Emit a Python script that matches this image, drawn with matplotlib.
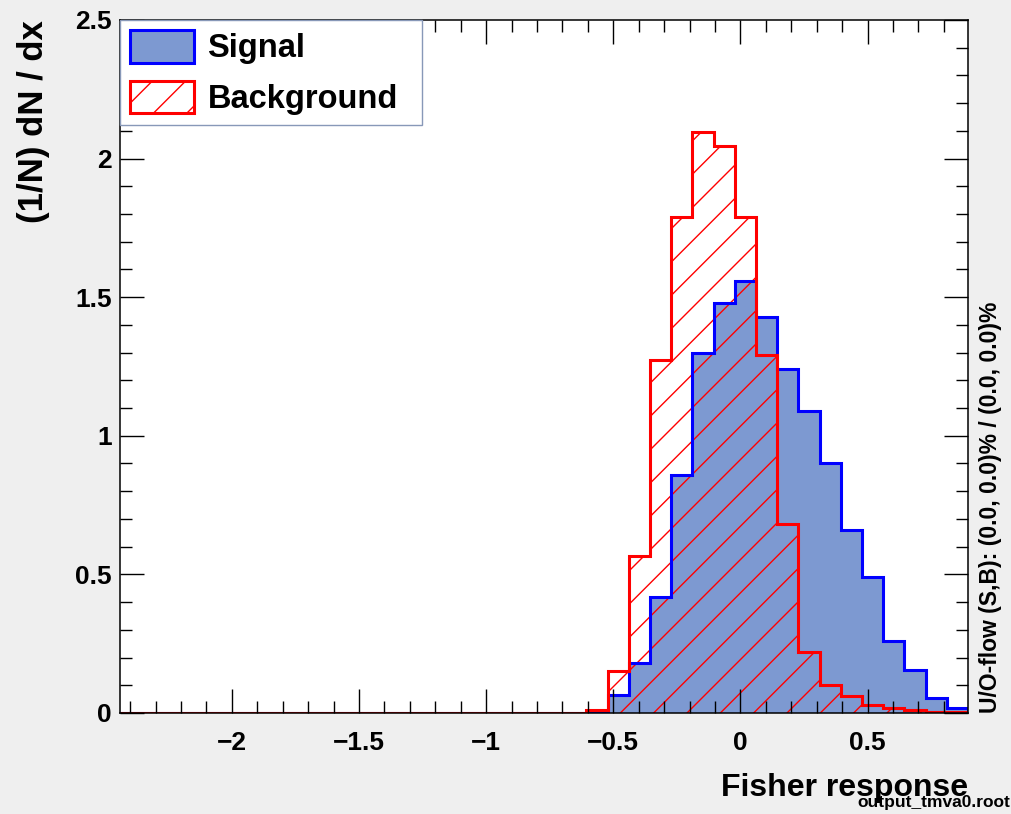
import numpy as np
import matplotlib
matplotlib.use('Agg')
import matplotlib.pyplot as plt
from matplotlib.patches import Patch
from matplotlib.ticker import MultipleLocator, FuncFormatter

# Fisher response binning (40 bins)
x_lo = -2.44
x_hi = 0.895
n_bins = 40

# normalised (1/N) dN/dx per bin, left bins are empty
signal = [0.0] * 23 + [0.065, 0.18, 0.42, 0.86, 1.30, 1.48, 1.56, 1.43, 1.24,
                       1.09, 0.90, 0.66, 0.49, 0.26, 0.155, 0.053, 0.018]
background = [0.0] * 22 + [0.01, 0.15, 0.565, 1.275, 1.79, 2.097, 2.046, 1.79, 1.29,
                           0.68, 0.22, 0.10, 0.06, 0.03, 0.018, 0.01, 0.005, 0.003]

labels = ['Signal', 'Background']
overflow_text = 'U/O-flow (S,B): (0.0, 0.0)% / (0.0, 0.0)%'


def main():
    plt.rcParams['font.family'] = ['Liberation Sans', 'DejaVu Sans']
    plt.rcParams['font.weight'] = 'bold'
    plt.rcParams['axes.labelweight'] = 'bold'
    plt.rcParams['hatch.linewidth'] = 1.0

    edges = np.linspace(x_lo, x_hi, n_bins + 1)

    fig = plt.figure(figsize=(10.11, 8.14), dpi=100, facecolor='#efefef')
    ax = fig.add_axes([0.1187, 0.1241, 0.8388, 0.8514])
    ax.set_facecolor('white')

    ax.stairs(signal, edges, fill=True, facecolor='#7d99d1', linewidth=0)
    ax.stairs(background, edges, fill=True, facecolor='none', edgecolor='red',
              hatch='/', linewidth=0)
    ax.stairs(signal, edges, color='blue', linewidth=2.2)
    ax.stairs(background, edges, color='red', linewidth=2.2)

    ax.set_xlim(x_lo, x_hi)
    ax.set_ylim(0, 2.5)
    ax.xaxis.set_major_locator(MultipleLocator(0.5))
    ax.xaxis.set_minor_locator(MultipleLocator(0.1))
    ax.yaxis.set_major_locator(MultipleLocator(0.5))
    ax.yaxis.set_minor_locator(MultipleLocator(0.1))
    fmt = FuncFormatter(lambda v, p: ('%g' % (0 if abs(v) < 1e-9 else v)).replace('-', '\u2212'))
    ax.xaxis.set_major_formatter(fmt)
    ax.yaxis.set_major_formatter(fmt)

    ax.tick_params(which='both', direction='in', top=True, right=True,
                   labelsize=19, width=1.0)
    ax.tick_params(which='major', length=17)
    ax.tick_params(which='minor', length=8.5)
    ax.tick_params(axis='x', pad=13)
    ax.tick_params(axis='y', pad=6)
    for s in ax.spines.values():
        s.set_linewidth(1.1)

    ax.set_xlabel('Fisher response', fontsize=23, loc='right')
    ax.xaxis.set_label_coords(1.0, -0.086)
    ax.set_ylabel('(1/N) dN / dx', fontsize=25, loc='top')
    ax.yaxis.set_label_coords(-0.083, 1.0)

    handles = [Patch(facecolor='#7d99d1', edgecolor='blue', linewidth=2.2, label=labels[0]),
               Patch(facecolor='white', edgecolor='red', hatch='/', linewidth=2.2, label=labels[1])]
    leg = ax.legend(handles=handles, loc='upper left', bbox_to_anchor=(0, 0.85, 0.356, 0.15),
                    mode='expand', borderaxespad=0, fontsize=23.5, handlelength=1.96,
                    handleheight=1.17, handletextpad=0.42, labelspacing=0.5, borderpad=0.3,
                    fancybox=False, framealpha=1, edgecolor='#8898b8')
    leg.get_frame().set_linewidth(1.0)

    fig.text(990 / 1011, 0.124, overflow_text, rotation=90, ha='center', va='bottom',
             fontsize=16.5)
    fig.text(1010 / 1011, 7 / 814, 'output_tmva0.root', ha='right', va='baseline',
             fontsize=12.5)

    fig.savefig('out.png', dpi=100, facecolor=fig.get_facecolor())


main()
